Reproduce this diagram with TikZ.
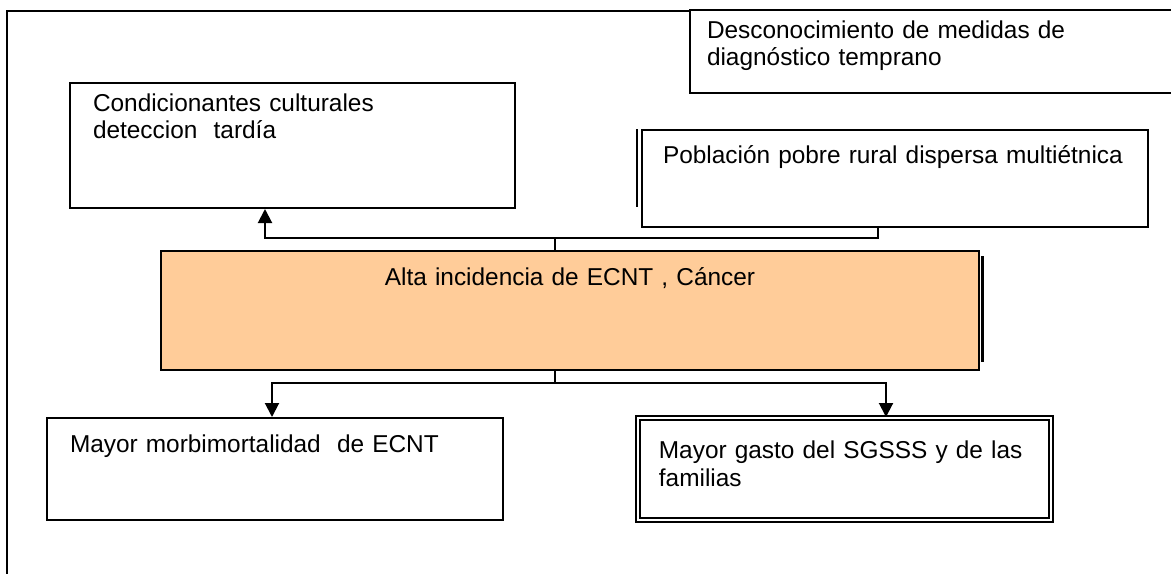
\documentclass[tikz,border=0pt]{standalone}
\usepackage{fontspec}
\setmainfont{Liberation Sans}
\usetikzlibrary{arrows.meta}
\definecolor{durazno}{RGB}{255,204,153}

\begin{document}
\begin{tikzpicture}[x=0.5pt,y=-0.5pt,
  caja/.style={draw,line width=1pt,fill=white,anchor=north west,align=left,inner ysep=0pt,font=\fontsize{12.2}{13.8}\selectfont},
  flecha/.style={line width=1pt,-{Triangle[width=7pt,length=7pt]}},
  linea/.style={line width=1pt}]
\useasboundingbox (0,0) rectangle (1171,573);
\clip (0,0) rectangle (1171,573);
% marco
\draw[linea] (7,600) -- (7,11) -- (1200,11);
% columnas y filas de los conectores
\coordinate (xa) at (265,0);
\coordinate (xj) at (555,0);
\coordinate (xp) at (878,0);
\coordinate (xb) at (272,0);
\coordinate (xg) at (886,0);
\coordinate (yt) at (0,238);
\coordinate (yb) at (0,383);
% cajas
\node[caja,inner xsep=8.5pt,text width=233pt,text height=14pt,text depth=27.5pt] (desc) at (689,9) {Desconocimiento de medidas de\\diagnóstico temprano};
\node[caja,inner xsep=11.5pt,text width=199.5pt,text height=14pt,text depth=48.5pt] (cond) at (69,82) {Condicionantes culturales\\deteccion\ \ tardía};
\node[caja,inner xsep=10.5pt,text width=232pt,text height=16.5pt,text depth=32pt] (pobl) at (641,129) {Población pobre rural dispersa multiétnica};
\draw[line width=1.2pt] ([xshift=-2pt]pobl.north west) -- ++(0,78);
\node[caja,fill=durazno,align=center,inner xsep=0pt,text width=409pt,text height=17pt,text depth=42.5pt] (alta) at (160,250) {Alta incidencia de ECNT , Cáncer};
\draw[line width=1.5pt] ([xshift=1pt,yshift=-3pt]alta.north east) -- ++(0,106);
\node[caja,inner xsep=11.5pt,text width=205pt,text height=17pt,text depth=34pt] (morb) at (46,417) {Mayor morbimortalidad\ \ de ECNT};
\node[caja,double,double distance=0.9pt,line width=0.9pt,inner xsep=10.5pt,text width=185.5pt,text height=20.5pt,text depth=30.5pt] (gasto) at (637,417) {Mayor gasto del SGSSS y de las\\familias};
% conectores
\draw[linea] (alta.north -| xj) -- (xj |- yt);
\draw[flecha] (xj |- yt) -| (cond.south -| xa);
\draw[linea] (xj |- yt) -| (pobl.south -| xp);
\draw[linea] (alta.south -| xj) -- (xj |- yb);
\draw[flecha] (xj |- yb) -| (morb.north -| xb);
\draw[flecha] (xj |- yb) -| (gasto.north -| xg);
\end{tikzpicture}
\end{document}
